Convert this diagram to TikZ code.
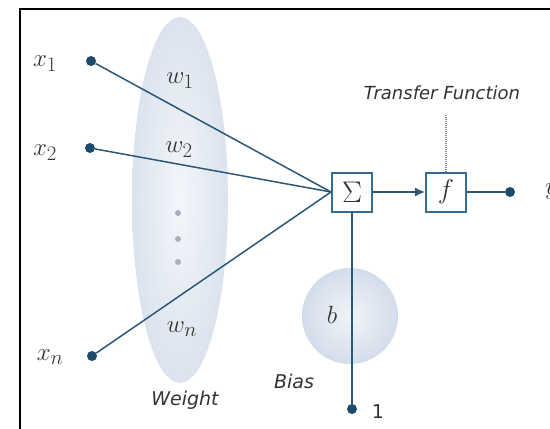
\documentclass[tikz,border=0pt]{standalone}
\usepackage{fontspec}
\newfontfamily\dejavu{DejaVu Sans}
\usetikzlibrary{arrows.meta}
\definecolor{linec}{HTML}{2B587A}
\definecolor{dotc}{HTML}{1B4A6B}
\definecolor{boxc}{HTML}{356A92}
\definecolor{ellout}{HTML}{DBE3EE}
\definecolor{ellin}{HTML}{F4F6FA}
\definecolor{bout}{HTML}{D3DDEA}
\definecolor{bin}{HTML}{F0F4F9}
\definecolor{txtgray}{HTML}{333333}
\definecolor{wdot}{HTML}{A9B1BD}
\definecolor{dotline}{HTML}{7F8C99}
\begin{document}
\begin{tikzpicture}[x=1pt,y=-1pt,
  dotnode/.style={circle,fill=dotc,inner sep=0pt,minimum size=10pt},
  wdotnode/.style={circle,fill=wdot,inner sep=0pt,minimum size=6pt},
  conn/.style={draw=linec,line width=1.5pt},
  blockbox/.style={draw=boxc,line width=2pt,fill=white,minimum width=40pt,minimum height=39pt,inner sep=0pt},
  mathlbl/.style={font=\Huge,text=txtgray,inner sep=0pt},
  biglbl/.style={font=\Huge,text=txtgray},
  sanslbl/.style={font=\dejavu\itshape\fontsize{18}{22}\selectfont,text=txtgray,inner sep=0pt}]
\useasboundingbox (0,0) rectangle (550,429);
\fill[white] (0,0) rectangle (550,429);
\draw[line width=2.5pt] (20,440) -- (20,9) -- (560,9);
% weight ellipse and bias circle
\shade[inner color=ellin,outer color=ellout] (180,200) ellipse [x radius=48, y radius=183];
\shade[inner color=bin,outer color=bout] (350,316) circle [radius=48];
% input dots
\node[dotnode] (x1) at (91,61) {};
\node[dotnode] (x2) at (90,148) {};
\node[dotnode] (xn) at (92,356) {};
\node[wdotnode] (d1) at (178,213) {};
\node[wdotnode] (d2) at (178,239) {};
\node[wdotnode] (d3) at (178,262) {};
% blocks
\node[blockbox,biglbl] (sum) at (352,192) {\scalebox{1.2}{$\Sigma$}};
\node[blockbox,biglbl] (f) at (446,192) {\scalebox{1.1}{$f$}};
\node[dotnode] (ydot) at (510,192) {};
\node[dotnode] (one) at (352,409) {};
\coordinate (tf) at (446,114);
% connectors
\draw[conn] (x1) -- (sum.west);
\draw[conn] (x2) -- (sum.west);
\draw[conn] (xn) -- (sum.west);
\draw[conn,-{Latex[length=10pt,width=9pt]}] (sum) -- (f);
\draw[conn] (f) -- (ydot);
\draw[conn] (sum) -- (one);
\draw[draw=dotline,line width=1.2pt,dash pattern=on 1pt off 1pt] (f.north) -- (tf);
% labels
\node[mathlbl] (lx1) at (45,64) {$x_1$};
\node[mathlbl] (lx2) at (45,153) {$x_2$};
\node[mathlbl] (lxn) at (50,357) {$x_n$};
\node[mathlbl] (lw1) at (180,81) {$w_1$};
\node[mathlbl] (lw2) at (179,150) {$w_2$};
\node[mathlbl] (lwn) at (182,329) {$w_n$};
\node[mathlbl] (lb) at (332,315) {$b$};
\node[mathlbl,anchor=west] (ly) at (545,192) {$y$};
\node[sanslbl] (ltf) at (442,93) {Transfer Function};
\node[sanslbl,font=\dejavu\itshape\fontsize{19}{22}\selectfont] (lweight) at (185,400) {Weight};
\node[sanslbl,font=\dejavu\itshape\fontsize{19}{22}\selectfont] (lbias) at (294,381) {Bias};
\node[font=\dejavu\fontsize{19}{22}\selectfont,text=txtgray,inner sep=0pt] (l1) at (378,412) {1};
\end{tikzpicture}
\end{document}
